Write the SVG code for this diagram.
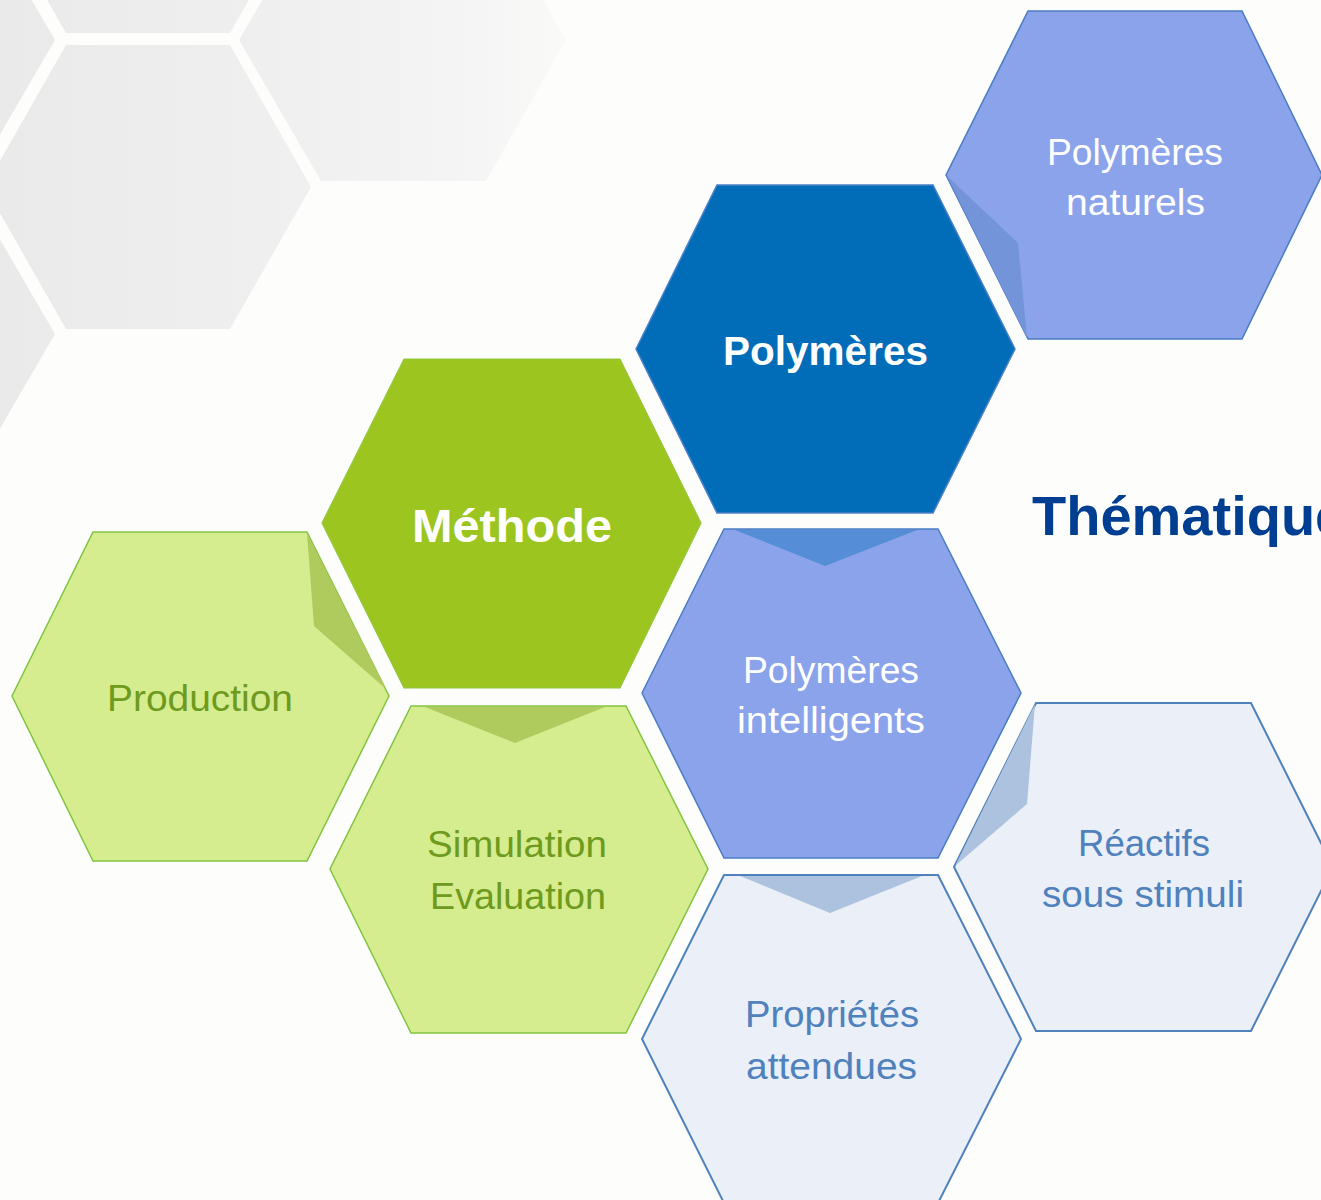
<svg xmlns="http://www.w3.org/2000/svg" width="1321" height="1200" viewBox="0 0 1321 1200">
<defs>
<linearGradient id="bgfade" gradientUnits="userSpaceOnUse" x1="0" y1="0" x2="570" y2="0">
<stop offset="0" stop-color="#eaeaea"/>
<stop offset="0.45" stop-color="#efefef"/>
<stop offset="0.8" stop-color="#f4f4f4"/>
<stop offset="1" stop-color="#fafaf9"/>
</linearGradient>
</defs>
<style>
.bg{fill:url(#bgfade);stroke:none}
.t{font-family:"Liberation Sans",Arial,sans-serif;text-anchor:middle}
.reg{font-size:37px}
.bold{font-size:41px;font-weight:bold}
.white{fill:#ffffff}
.gtxt{fill:#6e9a1e}
.btxt{fill:#4f81bd}
.hx-peri{fill:#8aa3ea;stroke:#4a7cc4;stroke-width:1.5}
.hx-dark{fill:#016db9;stroke:#4a80c8;stroke-width:1.5}
.hx-green{fill:#9cc61f;stroke:#92c83e;stroke-width:1.2}
.hx-lgreen{fill:#d5ed8f;stroke:#82c341;stroke-width:1.5}
.hx-lblue{fill:#eaeff8;stroke:#4f81bd;stroke-width:2}
.f-green{fill:#b0cb5d}
.f-intel{fill:#558ed6}
.f-nat{fill:#7394d8}
.f-lblue{fill:#adc2df}
</style>
<rect width="1321" height="1200" fill="#fdfdfb"/>
<g id="background">
<polygon class="bg" points="-190,-101 -27,-101 55,40 -27,181 -190,181 -271,40"/>
<polygon class="bg" points="66,-251 230,-251 311,-109 230,33 66,33 -15,-109"/>
<polygon class="bg" points="321,-101 486,-101 566,40 486,181 321,181 239,40"/>
<polygon class="bg" points="66,45 230,45 311,187 230,329 66,329 -15,187"/>
<polygon class="bg" points="-190,193 -27,193 55,334 -27,475 -190,475 -271,334"/>
</g>
<g id="connectors"/>
<g id="node-polymeres-naturels">
<polygon class="hx-peri" points="1028,11 1242,11 1322,175 1242,339 1028,339 946,175"/>
<polygon class="f-nat" points="947,176 1018,243 1027,338"/>
<text class="t reg white" x="1135" y="165" textLength="176" lengthAdjust="spacingAndGlyphs">Polymères</text>
<text class="t reg white" x="1135.5" y="215" textLength="139" lengthAdjust="spacingAndGlyphs">naturels</text>
</g>
<g id="node-polymeres">
<polygon class="hx-dark" points="717,185 933,185 1015,349 933,513 717,513 636,349"/>
<text class="t bold white" x="825.5" y="365" textLength="205" lengthAdjust="spacingAndGlyphs">Polymères</text>
</g>
<g id="node-methode">
<polygon class="hx-green" points="404,359 620,359 701,523 620,688 404,688 322,523"/>
<text class="t white" style="font-size:47px;font-weight:bold" x="512" y="542" textLength="200" lengthAdjust="spacingAndGlyphs">Méthode</text>
</g>
<g id="node-production">
<polygon class="hx-lgreen" points="93,532 307,532 389,696 307,861 93,861 12,696"/>
<polygon class="f-green" points="307,533 314,626 386,689"/>
<text class="t reg gtxt" x="200" y="711" textLength="186" lengthAdjust="spacingAndGlyphs">Production</text>
</g>
<g id="node-simulation">
<polygon class="hx-lgreen" points="411,706 626,706 708,869 626,1033 411,1033 330,869"/>
<polygon class="f-green" points="425,707 605,707 515,743"/>
<text class="t reg gtxt" x="517" y="857" textLength="180" lengthAdjust="spacingAndGlyphs">Simulation</text>
<text class="t reg gtxt" x="518" y="909" textLength="176" lengthAdjust="spacingAndGlyphs">Evaluation</text>
</g>
<g id="node-polymeres-intelligents">
<polygon class="hx-peri" points="724,529 938,529 1021,693 938,858 724,858 642,693"/>
<polygon class="f-intel" points="735,530 917,530 825,566"/>
<text class="t reg white" x="831" y="683" textLength="176" lengthAdjust="spacingAndGlyphs">Polymères</text>
<text class="t reg white" x="831" y="733" textLength="188" lengthAdjust="spacingAndGlyphs">intelligents</text>
</g>
<g id="node-reactifs">
<polygon class="hx-lblue" points="1036,703 1251,703 1333,867 1251,1031 1036,1031 954,867"/>
<polygon class="f-lblue" points="1035,704 1027,804 955,866"/>
<text class="t reg btxt" x="1144" y="856" textLength="132" lengthAdjust="spacingAndGlyphs">Réactifs</text>
<text class="t reg btxt" x="1143" y="907" textLength="202" lengthAdjust="spacingAndGlyphs">sous stimuli</text>
</g>
<g id="node-proprietes">
<polygon class="hx-lblue" points="724,875 938,875 1021,1039 938,1203 724,1203 642,1039"/>
<polygon class="f-lblue" points="740,876 922,876 830,913"/>
<text class="t reg btxt" x="832" y="1027" textLength="174" lengthAdjust="spacingAndGlyphs">Propriétés</text>
<text class="t reg btxt" x="831.5" y="1079" textLength="171" lengthAdjust="spacingAndGlyphs">attendues</text>
</g>
<g id="title">
<text x="1032" y="535" style="font-family:'Liberation Sans',Arial,sans-serif;font-size:56px;font-weight:bold" fill="#003e92">Thématique</text>
</g>
</svg>
